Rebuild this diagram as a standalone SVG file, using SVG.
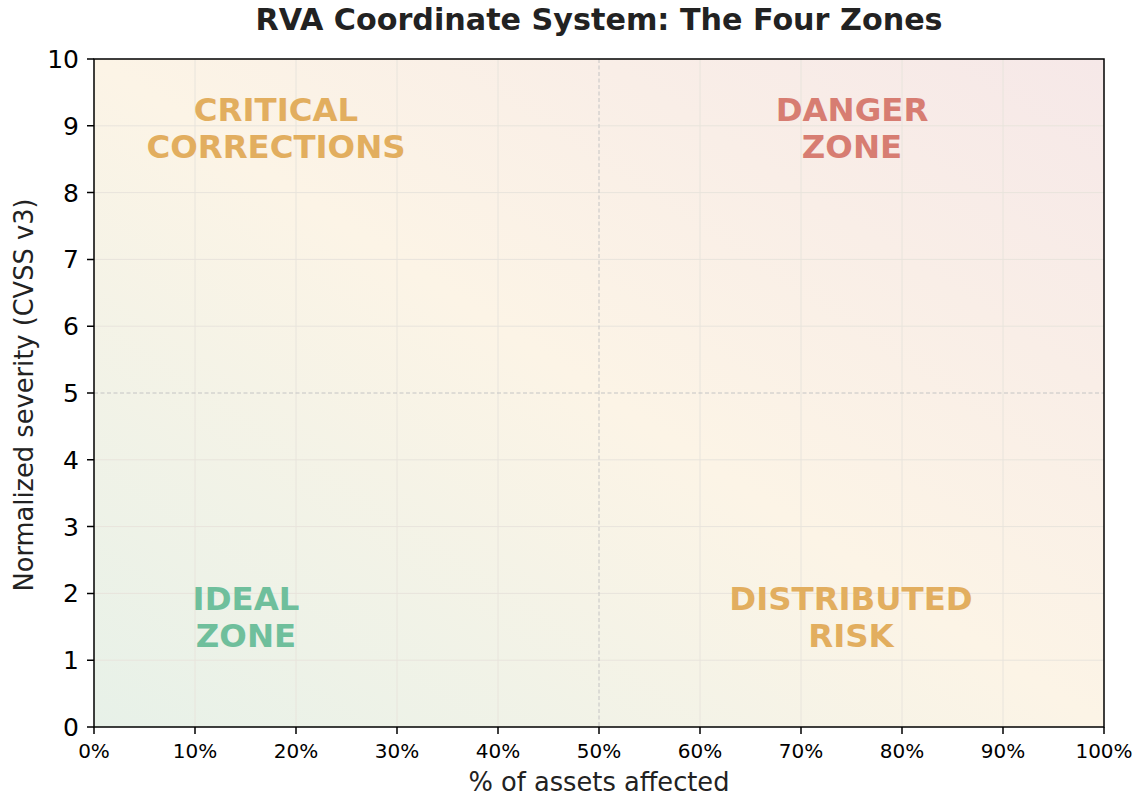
<svg xmlns="http://www.w3.org/2000/svg" width="1138" height="797" viewBox="0 0 1138 797">
  <style>
    .grid { stroke: #e8e4dc; stroke-width: 1; }
    .mid { stroke: #c4c4c4; stroke-width: 1; stroke-dasharray: 4 2.5; fill: none; }
    .tick { stroke: #000; stroke-width: 1.5; }
    .tl { font-family: "DejaVu Sans", sans-serif; fill: #000; }
    .tx { font-size: 20px; text-anchor: middle; }
    .ty { font-size: 25px; text-anchor: end; }
    .lab { font-family: "DejaVu Sans", sans-serif; font-size: 25.7px; fill: #222; text-anchor: middle; }
    .zone { font-family: "DejaVu Sans", sans-serif; font-weight: bold; font-size: 32.4px; text-anchor: middle; }
  </style>
  <defs>
    <linearGradient id="bg" x1="0" y1="1" x2="1" y2="0">
      <stop offset="0" stop-color="#e7f1e8"/>
      <stop offset="0.5" stop-color="#fcf4e6"/>
      <stop offset="1" stop-color="#f6e8e8"/>
    </linearGradient>
  </defs>
  <rect width="1138" height="797" fill="#fff"/>

  <!-- title -->
  <text x="599" y="30" font-family="DejaVu Sans, sans-serif" font-weight="bold" font-size="30.2" fill="#222" text-anchor="middle">RVA Coordinate System: The Four Zones</text>

  <!-- plot area -->
  <g id="plot-area">
    <rect x="94" y="59" width="1010" height="668" fill="url(#bg)"/>
    <g id="grid">
      <line class="grid" x1="195" y1="59" x2="195" y2="727"/>
      <line class="grid" x1="296" y1="59" x2="296" y2="727"/>
      <line class="grid" x1="397" y1="59" x2="397" y2="727"/>
      <line class="grid" x1="498" y1="59" x2="498" y2="727"/>
      <line class="grid" x1="700" y1="59" x2="700" y2="727"/>
      <line class="grid" x1="801" y1="59" x2="801" y2="727"/>
      <line class="grid" x1="902" y1="59" x2="902" y2="727"/>
      <line class="grid" x1="1003" y1="59" x2="1003" y2="727"/>
      <line class="grid" x1="94" y1="125.8" x2="1104" y2="125.8"/>
      <line class="grid" x1="94" y1="192.6" x2="1104" y2="192.6"/>
      <line class="grid" x1="94" y1="259.4" x2="1104" y2="259.4"/>
      <line class="grid" x1="94" y1="326.2" x2="1104" y2="326.2"/>
      <line class="grid" x1="94" y1="459.8" x2="1104" y2="459.8"/>
      <line class="grid" x1="94" y1="526.6" x2="1104" y2="526.6"/>
      <line class="grid" x1="94" y1="593.4" x2="1104" y2="593.4"/>
      <line class="grid" x1="94" y1="660.2" x2="1104" y2="660.2"/>
    </g>
    <!-- quadrant dividers -->
    <line class="mid" x1="599" y1="59" x2="599" y2="727"/>
    <line class="mid" x1="94" y1="393" x2="1104" y2="393"/>
  </g>

  <!-- zone labels -->
  <g id="zone-critical" class="zone" fill="#e2ae5f">
    <text x="276" y="121">CRITICAL</text>
    <text x="276" y="158">CORRECTIONS</text>
  </g>
  <g id="zone-danger" class="zone" fill="#d77d72">
    <text x="852" y="121">DANGER</text>
    <text x="852" y="158">ZONE</text>
  </g>
  <g id="zone-ideal" class="zone" fill="#6fbf9c">
    <text x="246" y="610">IDEAL</text>
    <text x="246" y="647">ZONE</text>
  </g>
  <g id="zone-distributed" class="zone" fill="#e2ae5f">
    <text x="851" y="610">DISTRIBUTED</text>
    <text x="851" y="647">RISK</text>
  </g>

  <!-- axes frame and ticks -->
  <g id="axes">
    <rect x="94" y="59" width="1010" height="668" fill="none" stroke="#000" stroke-width="1.5"/>
    <path class="tick" d="M94 727v7M195 727v7M296 727v7M397 727v7M498 727v7M599 727v7M700 727v7M801 727v7M902 727v7M1003 727v7M1104 727v7"/>
    <path class="tick" d="M94 727h-7M94 660.2h-7M94 593.4h-7M94 526.6h-7M94 459.8h-7M94 393h-7M94 326.2h-7M94 259.4h-7M94 192.6h-7M94 125.8h-7M94 59h-7"/>
    <g class="tl tx">
      <text x="94" y="758">0%</text>
      <text x="195" y="758">10%</text>
      <text x="296" y="758">20%</text>
      <text x="397" y="758">30%</text>
      <text x="498" y="758">40%</text>
      <text x="599" y="758">50%</text>
      <text x="700" y="758">60%</text>
      <text x="801" y="758">70%</text>
      <text x="902" y="758">80%</text>
      <text x="1003" y="758">90%</text>
      <text x="1104" y="758">100%</text>
    </g>
    <g class="tl ty">
      <text x="79" y="736">0</text>
      <text x="79" y="669.2">1</text>
      <text x="79" y="602.4">2</text>
      <text x="79" y="535.6">3</text>
      <text x="79" y="468.8">4</text>
      <text x="79" y="402">5</text>
      <text x="79" y="335.2">6</text>
      <text x="79" y="268.4">7</text>
      <text x="79" y="201.6">8</text>
      <text x="79" y="134.8">9</text>
      <text x="79" y="68">10</text>
    </g>
    <text class="lab" x="599" y="791">% of assets affected</text>
    <text class="lab" transform="translate(33 395) rotate(-90)">Normalized severity (CVSS v3)</text>
  </g>
</svg>
